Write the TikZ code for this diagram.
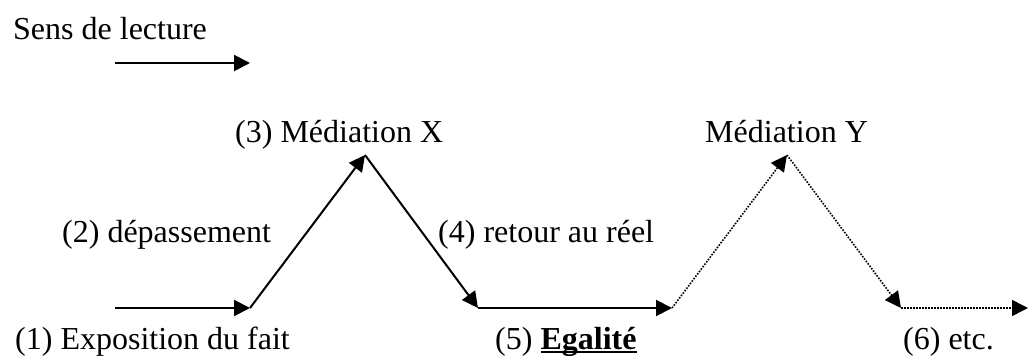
\documentclass[tikz,border=0pt]{standalone}
\usepackage{fontspec}
\setmainfont{Liberation Serif}
\usetikzlibrary{arrows.meta}
\newcommand\myul[1]{\setbox0\hbox{#1}\rlap{\rule[-3.5pt]{\wd0}{1.8pt}}\box0}
\begin{document}
\begin{tikzpicture}[x=1pt,y=-1pt,
  lbl/.style={anchor=base west,inner sep=0pt,font=\fontsize{32}{38}\selectfont},
  solidarrow/.style={line width=2pt,-{Triangle[length=16pt,width=16pt]}},
  dotarrow/.style={line width=1.6pt,dash pattern=on 1.6pt off 1.4pt,-{Triangle[length=16pt,width=16pt]}}]
\useasboundingbox (0,0) rectangle (1028,358);
\node[lbl] (sens) at (13,40) {Sens de lecture};
\node[lbl] (m3) at (235,143) {(3) Médiation X};
\node[lbl] (my) at (705,143) {Médiation Y};
\node[lbl] (d2) at (62,243) {(2) dépassement};
\node[lbl] (r4) at (438,243) {(4) retour au réel};
\node[lbl] (e1) at (15,349) {(1) Exposition du fait};
\node[lbl] (g5) at (495,349) {(5) \myul{\textbf{Egalité}}};
\node[lbl] (c6) at (903,349) {(6) etc.};
\coordinate (s0) at (115,63);
\coordinate (s1) at (250,63);
\coordinate (p0) at (115,308);
\coordinate (p1) at (250,308);
\coordinate (p2) at (365,155);
\coordinate (p3) at (478,308);
\coordinate (p4) at (672,308);
\coordinate (p5) at (787,155);
\coordinate (p6) at (901,308);
\coordinate (p7) at (1028,308);
\draw[solidarrow] (s0) -- (s1);
\draw[solidarrow] (p0) -- (p1);
\draw[solidarrow] (p1) -- (p2);
\draw[solidarrow] (p2) -- (p3);
\draw[solidarrow] (p3) -- (p4);
\draw[dotarrow] (p4) -- (p5);
\draw[dotarrow] (p5) -- (p6);
\draw[dotarrow] (p6) -- (p7);
\end{tikzpicture}
\end{document}
